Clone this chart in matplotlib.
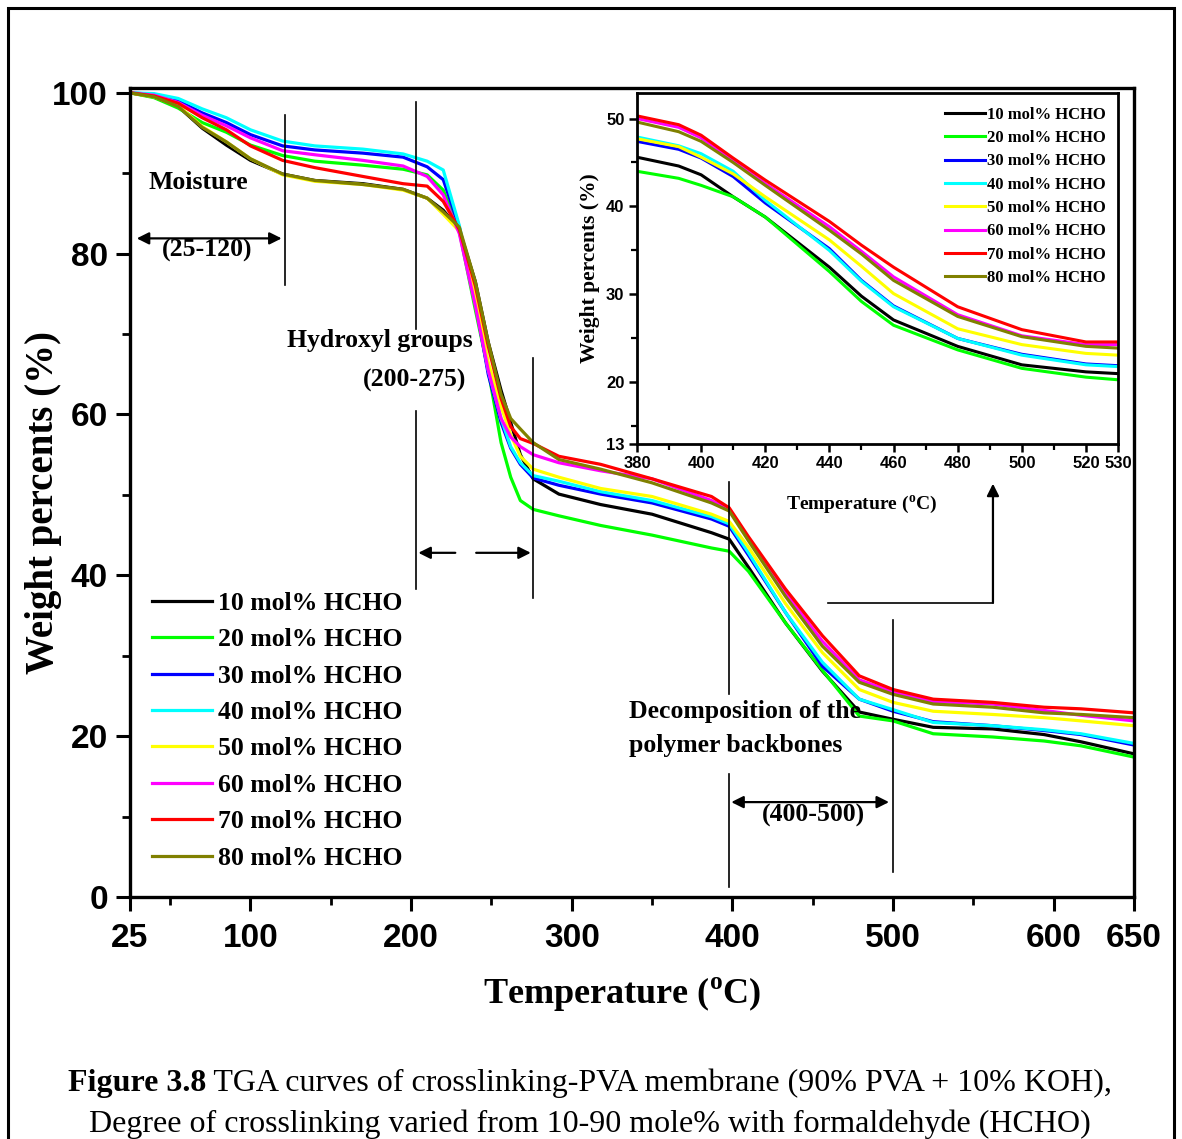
import matplotlib
matplotlib.use("Agg")
import matplotlib.pyplot as plt
from matplotlib.patches import Rectangle
from matplotlib.ticker import MultipleLocator, FixedLocator

plt.rcParams["font.family"] = ["Liberation Serif", "DejaVu Serif"]
plt.rcParams["mathtext.fontset"] = "custom"
plt.rcParams["mathtext.rm"] = "Liberation Serif:bold"

# ---- main TGA curves (temperature in degC, weight in %) ----
temp = [25, 40, 55, 70, 85, 100, 120, 140, 170, 195, 210, 220, 230, 240, 248, 256,
        262, 268, 276, 292, 318, 350, 387, 398, 410, 433, 456, 479, 500, 525, 562,
        594, 617, 650]

w10 = [100, 99.5, 98.3, 95.6, 93.5, 91.6, 89.9, 89.1, 88.7, 88.0, 86.9, 85.4, 83.0,
       76.5, 69.0, 63.0, 59.0, 55.0, 52.0, 50.1, 48.8, 47.6, 45.3, 44.5, 41.0, 34.1,
       28.1, 23.0, 22.1, 21.1, 20.9, 20.2, 19.3, 17.8]
w20 = [100, 99.4, 98.1, 96.3, 95.1, 93.5, 92.2, 91.5, 91.0, 90.5, 89.8, 87.9, 82.8,
       73.0, 65.5, 56.5, 52.2, 49.3, 48.2, 47.4, 46.2, 45.0, 43.4, 43.0, 40.5, 34.1,
       28.2, 22.5, 21.9, 20.3, 19.9, 19.4, 18.8, 17.4]
w30 = [100, 99.8, 99.0, 97.5, 96.3, 94.8, 93.4, 92.9, 92.5, 92.0, 90.8, 89.2, 83.3,
       74.0, 65.0, 59.0, 55.8, 53.8, 52.1, 51.2, 50.1, 49.0, 47.0, 46.1, 42.5, 35.4,
       28.7, 24.6, 23.1, 21.8, 21.3, 20.7, 20.2, 18.9]
w40 = [100, 99.9, 99.3, 98.0, 96.9, 95.4, 94.0, 93.4, 93.0, 92.4, 91.5, 90.4, 83.5,
       74.0, 65.5, 59.5, 56.0, 54.0, 52.4, 51.7, 50.4, 49.3, 47.3, 46.4, 42.8, 35.4,
       29.2, 24.6, 23.3, 21.7, 21.3, 20.8, 20.3, 19.1]
w50 = [100, 99.5, 98.4, 95.8, 93.9, 91.8, 89.8, 89.0, 88.6, 87.9, 86.9, 84.9, 82.8,
       75.0, 66.5, 61.0, 57.5, 54.8, 53.2, 52.2, 50.8, 49.8, 47.6, 46.7, 43.5, 36.5,
       30.4, 25.8, 24.2, 23.1, 22.7, 22.3, 21.9, 21.3]
w60 = [100, 99.7, 98.8, 97.2, 95.9, 94.4, 92.8, 92.3, 91.6, 90.9, 89.6, 87.3, 82.5,
       73.5, 65.5, 59.5, 57.2, 56.0, 55.0, 54.0, 53.0, 52.0, 49.3, 48.2, 44.6, 37.8,
       31.8, 27.0, 25.5, 24.3, 24.0, 23.2, 22.6, 21.9]
w70 = [100, 99.6, 98.7, 96.9, 95.4, 93.4, 91.6, 90.7, 89.6, 88.7, 88.4, 86.5, 83.0,
       76.0, 68.5, 62.0, 58.5, 57.0, 56.4, 54.8, 53.8, 52.0, 49.8, 48.4, 44.8, 38.3,
       32.5, 27.5, 25.8, 24.6, 24.2, 23.6, 23.4, 22.9]
w80 = [100, 99.5, 98.3, 95.7, 93.9, 91.8, 89.9, 89.1, 88.6, 88.0, 86.9, 85.2, 83.3,
       76.5, 69.0, 62.5, 59.5, 58.2, 56.5, 54.4, 53.2, 51.5, 49.0, 48.0, 44.3, 37.4,
       31.2, 26.7, 25.2, 24.0, 23.6, 22.9, 22.7, 22.3]

# ---- zoomed view 380-530 degC ----
temp_in = [380, 393, 400, 410, 420, 440, 450, 460, 480, 500, 520, 530]
in10 = [45.6, 44.6, 43.6, 41.1, 38.8, 33.1, 29.8, 27.1, 24.1, 22.0, 21.2, 21.0]
in20 = [44.0, 43.2, 42.4, 41.1, 38.8, 32.6, 29.2, 26.5, 23.7, 21.6, 20.6, 20.3]
in30 = [47.4, 46.5, 45.5, 43.4, 40.4, 35.2, 31.6, 28.7, 25.0, 23.2, 22.1, 21.9]
in40 = [47.9, 46.9, 46.0, 44.0, 40.7, 35.0, 31.5, 28.6, 25.0, 23.1, 22.0, 21.8]
in50 = [47.7, 46.8, 45.6, 43.7, 41.1, 36.2, 33.2, 30.1, 26.1, 24.3, 23.3, 23.1]
in60 = [50.0, 49.0, 47.8, 45.2, 42.6, 37.7, 34.9, 32.0, 27.7, 25.3, 24.3, 24.3]
in70 = [50.3, 49.3, 48.1, 45.5, 43.0, 38.3, 35.6, 33.1, 28.6, 26.0, 24.6, 24.6]
in80 = [49.6, 48.5, 47.4, 45.0, 42.4, 37.3, 34.6, 31.6, 27.5, 25.2, 24.1, 23.9]

labels = ["10 mol% HCHO", "20 mol% HCHO", "30 mol% HCHO", "40 mol% HCHO",
          "50 mol% HCHO", "60 mol% HCHO", "70 mol% HCHO", "80 mol% HCHO"]
colors = ["#000000", "#00ff00", "#0000ff", "#00ffff",
          "#ffff00", "#ff00ff", "#ff0000", "#808000"]
main_series = [w10, w20, w30, w40, w50, w60, w70, w80]
inset_series = [in10, in20, in30, in40, in50, in60, in70, in80]

SERIF_B = dict(family="Liberation Serif", weight="bold")
SANS_B = dict(family="Liberation Sans", weight="bold")

W, H = 1182, 1139
fig = plt.figure(figsize=(W / 100, H / 100), dpi=100)

# page frame
fig.patches.append(Rectangle((8 / W, -0.05), 1166 / W, 1.05 - 8 / H, transform=fig.transFigure,
                             fill=False, lw=2.2, ec="black"))

ax = fig.add_axes([130 / W, 1 - 897 / H, 1004 / W, 809 / H])
for wv, c, lab in zip(main_series, colors, labels):
    ax.plot(temp, wv, color=c, lw=2.3, label=lab, solid_joinstyle="round")

ax.set_xlim(25, 650)
ax.set_ylim(0, 100.6)
ax.xaxis.set_major_locator(FixedLocator([25, 100, 200, 300, 400, 500, 600, 650]))
ax.xaxis.set_minor_locator(FixedLocator([50, 150, 250, 350, 450, 550]))
ax.yaxis.set_major_locator(MultipleLocator(20))
ax.yaxis.set_minor_locator(MultipleLocator(10))
ax.tick_params(which="major", direction="out", length=10, width=2.2, pad=6)
ax.tick_params(which="minor", direction="out", length=6, width=2.0)
ax.tick_params(axis="x", which="major", pad=9)
for s in ax.spines.values():
    s.set_linewidth(2.4)
for t in ax.get_xticklabels() + ax.get_yticklabels():
    t.set_fontproperties(matplotlib.font_manager.FontProperties(size=24, **SANS_B))

ax.set_xlabel("Temperature ($^{\\mathrm{o}}$C)", fontsize=26, **SERIF_B)
ax.set_ylabel("Weight percents (%)", fontsize=28, **SERIF_B)
ax.xaxis.set_label_coords(0.49, -0.097)
ax.yaxis.set_label_coords(-0.068, 0.488)

leg = ax.legend(loc="upper left", bbox_to_anchor=(0.022, 0.377), frameon=False,
                prop=dict(size=18.5, **SERIF_B), handlelength=2.35, handletextpad=0.2,
                labelspacing=0.52, borderpad=0, borderaxespad=0)
for ln in leg.get_lines():
    ln.set_linewidth(2.3)

# region markers and labels
ann_kw = dict(color="black", lw=1.2)
arrow2 = dict(arrowstyle="<|-|>", color="black", lw=1.6, mutation_scale=18, shrinkA=0, shrinkB=0)
arrow1 = dict(arrowstyle="-|>", color="black", lw=1.6, mutation_scale=18, shrinkA=0, shrinkB=0)

ax.plot([121.5, 121.5], [97.2, 76.1], **ann_kw)
ax.text(67.3, 88.8, "Moisture", ha="center", va="center", fontsize=18.5, **SERIF_B)
ax.annotate("", xy=(29.2, 81.9), xytext=(119.4, 81.9), arrowprops=arrow2)
ax.text(72.9, 80.4, "(25-120)", ha="center", va="center", fontsize=18.5, **SERIF_B)

ax.plot([203, 203], [98.9, 70.6], **ann_kw)
ax.plot([203, 203], [60.4, 38.3], **ann_kw)
ax.plot([275.9, 275.9], [67.0, 37.2], **ann_kw)
ax.text(180.6, 69.2, "Hydroxyl groups", ha="center", va="center", fontsize=18.5, **SERIF_B)
ax.text(202.4, 64.2, "(200-275)", ha="center", va="center", fontsize=18.5, **SERIF_B)
ax.annotate("", xy=(204.5, 42.8), xytext=(227.5, 42.8), arrowprops=arrow1)
ax.annotate("", xy=(274.5, 42.8), xytext=(240.5, 42.8), arrowprops=arrow1)

ax.plot([398, 398], [51.6, 25.2], **ann_kw)
ax.plot([398, 398], [15.3, 1.2], **ann_kw)
ax.plot([500, 500], [34.5, 3.1], **ann_kw)
ax.text(335.6, 23.1, "Decomposition of the", ha="left", va="center", fontsize=18.5, **SERIF_B)
ax.text(335.6, 18.8, "polymer backbones", ha="left", va="center", fontsize=18.5, **SERIF_B)
ax.annotate("", xy=(399.3, 11.8), xytext=(497.5, 11.8), arrowprops=arrow2)
ax.text(450.2, 10.2, "(400-500)", ha="center", va="center", fontsize=18.5, **SERIF_B)

# pointer to the zoomed panel
ax.plot([459.5, 562.2], [36.6, 36.6], **ann_kw)
ax.annotate("", xy=(562.2, 51.4), xytext=(562.2, 36.6), arrowprops=arrow1)

# ---- inset ----
ax_in = fig.add_axes([637 / W, 1 - 444 / H, 481 / W, 351 / H])
for wv, c, lab in zip(inset_series, colors, labels):
    ax_in.plot(temp_in, wv, color=c, lw=2.2, label=lab, solid_joinstyle="round")
ax_in.set_xlim(380, 530)
ax_in.set_ylim(13, 52.9)
ax_in.xaxis.set_major_locator(FixedLocator([380, 400, 420, 440, 460, 480, 500, 520, 530]))
ax_in.xaxis.set_minor_locator(FixedLocator([390, 410, 430, 450, 470, 490, 510]))
ax_in.yaxis.set_major_locator(FixedLocator([13, 20, 30, 40, 50]))
ax_in.yaxis.set_minor_locator(FixedLocator([15, 25, 35, 45]))
ax_in.tick_params(which="major", direction="out", length=6, width=1.8, pad=3)
ax_in.tick_params(which="minor", direction="out", length=4, width=1.6)
for s in ax_in.spines.values():
    s.set_linewidth(2.0)
for t in ax_in.get_xticklabels() + ax_in.get_yticklabels():
    t.set_fontproperties(matplotlib.font_manager.FontProperties(size=12, **SANS_B))
ax_in.set_xlabel("Temperature ($^{\\mathrm{o}}$C)", fontsize=14, **SERIF_B)
ax_in.set_ylabel("Weight percents (%)", fontsize=15.5, labelpad=4, **SERIF_B)
ax_in.xaxis.set_label_coords(0.468, -0.142)

leg_in = ax_in.legend(loc="upper left", bbox_to_anchor=(0.640, 0.961), frameon=False,
                      prop=dict(size=12, **SERIF_B), handlelength=2.4, handletextpad=0.15,
                      labelspacing=0.44, borderpad=0, borderaxespad=0)
for ln in leg_in.get_lines():
    ln.set_linewidth(2.2)

# ---- caption ----
renderer = fig.canvas.get_renderer()


def caption_line(y, bold_part, rest):
    tb = fig.text(0, y, bold_part, fontsize=23.0, family="Liberation Serif", weight="bold",
                  va="baseline", ha="left")
    tr = fig.text(0, y, rest, fontsize=23.0, family="Liberation Serif", va="baseline", ha="left")
    wb = tb.get_window_extent(renderer).width if bold_part else 0
    wr = tr.get_window_extent(renderer).width
    x0 = (590 - (wb + wr) / 2) / W
    tb.set_x(x0)
    tr.set_x(x0 + wb / W)


caption_line(1 - 1091 / H, "Figure 3.8", " TGA curves of crosslinking-PVA membrane (90% PVA + 10% KOH),")
caption_line(1 - 1132 / H, "", "Degree of crosslinking varied from 10-90 mole% with formaldehyde (HCHO)")

fig.savefig("out.png", dpi=100)
